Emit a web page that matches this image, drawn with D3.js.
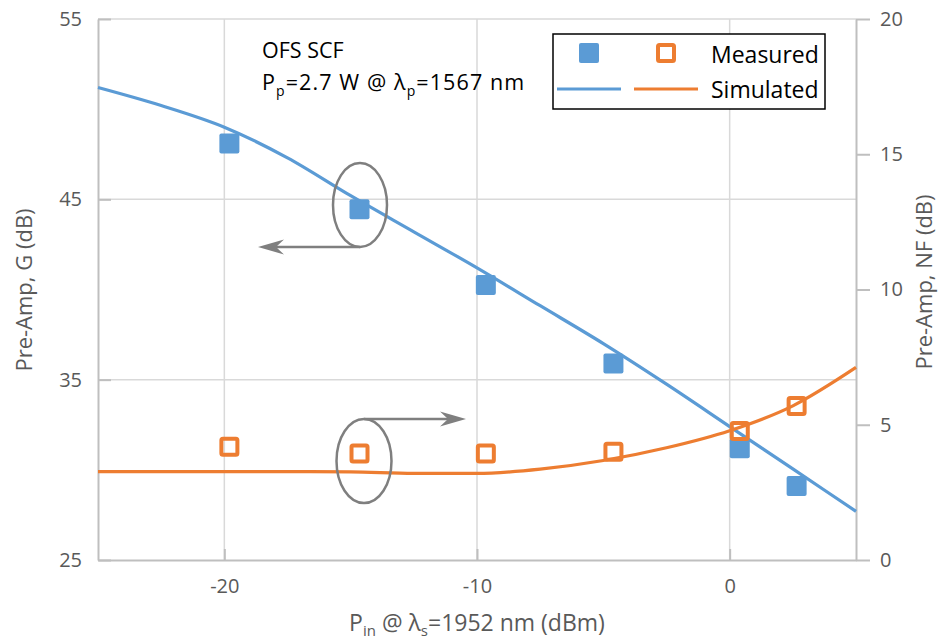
<!DOCTYPE html>
<html>
<head>
<meta charset="utf-8">
<script src="https://cdn.jsdelivr.net/npm/d3@7"></script>
<style>
html,body{margin:0;padding:0;background:#fff;}
svg{display:block;font-family:"Open Sans",sans-serif;}
</style>
</head>
<body>
<svg id="chart" width="941" height="643"></svg>
<script>
// ---- data ----
const measX = [-19.8, -14.65, -9.65, -4.6, 0.4, 2.65];
const measGain = [48.1, 44.45, 40.25, 35.9, 31.2, 29.1];
const measNF = [4.19, 3.94, 3.94, 4.0, 4.77, 5.69];

const simX = [-25, -22.5, -20, -17.5, -15, -12.5, -10, -7.5, -5, -2.5, 0, 2.5, 5];
const simGain = [51.2, 50.2, 49.0, 47.3, 45.2, 43.2, 41.2, 39.1, 37.0, 34.75, 32.4, 30.05, 27.7];
const simNF = [3.27, 3.27, 3.27, 3.27, 3.26, 3.2, 3.2, 3.36, 3.68, 4.15, 4.78, 5.7, 7.12];

const xTicks = [-20, -10, 0];
const yLeftTicks = [25, 35, 45, 55];
const yRightTicks = [0, 5, 10, 15, 20];

// ---- layout ----
const L = 98, R = 856, T = 19, B = 560;
const BLUE = "#5b9bd5", ORANGE = "#ed7d31", GRID = "#d9d9d9", AXIS = "#bfbfbf", TXT = "#595959", ANN = "#7f7f7f";

const svg = d3.select("#chart");
const x = d3.scaleLinear().domain([-25, 5]).range([L, R]);
const yL = d3.scaleLinear().domain([25, 55]).range([B, T]);
const yR = d3.scaleLinear().domain([0, 20]).range([B, T]);

// gridlines
svg.append("g").selectAll("line").data(yLeftTicks.filter(d => d !== 25)).join("line")
  .attr("x1", L).attr("x2", R).attr("y1", d => yL(d)).attr("y2", d => yL(d))
  .attr("stroke", GRID).attr("stroke-width", 1.5);
svg.append("g").selectAll("line").data(xTicks).join("line")
  .attr("x1", d => x(d)).attr("x2", d => x(d)).attr("y1", T).attr("y2", B)
  .attr("stroke", GRID).attr("stroke-width", 1.5);

// axes
const axStyle = g => {
  g.select(".domain").attr("stroke", AXIS).attr("stroke-width", 2);
  g.selectAll(".tick line").attr("stroke", AXIS).attr("stroke-width", 2);
  g.selectAll(".tick text").attr("fill", TXT).attr("font-size", 20).attr("font-family", "Open Sans");
};
svg.append("g").attr("transform", `translate(0,${B})`)
  .call(d3.axisBottom(x).tickValues(xTicks).tickSizeInner(-11).tickSizeOuter(0).tickPadding(19).tickFormat(d3.format("d")))
  .call(axStyle)
  .call(g => g.selectAll(".tick text").text(d => d < 0 ? "-" + Math.abs(d) : d));
svg.append("g").attr("transform", `translate(${L},0)`)
  .call(d3.axisLeft(yL).tickValues(yLeftTicks).tickSizeInner(-13).tickSizeOuter(0).tickPadding(16))
  .call(axStyle);
svg.append("g").attr("transform", `translate(${R},0)`)
  .call(d3.axisRight(yR).tickValues(yRightTicks).tickSizeInner(14).tickSizeOuter(0).tickPadding(10))
  .call(axStyle);

// simulated curves
const lineG = d3.line().x((d, i) => x(simX[i])).y(d => yL(d)).curve(d3.curveMonotoneX);
const lineN = d3.line().x((d, i) => x(simX[i])).y(d => yR(d)).curve(d3.curveMonotoneX);
svg.append("path").attr("d", lineG(simGain)).attr("fill", "none").attr("stroke", BLUE).attr("stroke-width", 3.2);
svg.append("path").attr("d", lineN(simNF)).attr("fill", "none").attr("stroke", ORANGE).attr("stroke-width", 3.2);

// measured markers
const S = 20;
svg.append("g").selectAll("rect").data(measGain).join("rect")
  .attr("x", (d, i) => x(measX[i]) - S / 2).attr("y", d => yL(d) - S / 2)
  .attr("width", S).attr("height", S).attr("rx", 2).attr("fill", BLUE);
svg.append("g").selectAll("rect").data(measNF).join("rect")
  .attr("x", (d, i) => x(measX[i]) - 8).attr("y", d => yR(d) - 8)
  .attr("width", 16).attr("height", 16).attr("rx", 1.5)
  .attr("fill", "none").attr("stroke", ORANGE).attr("stroke-width", 4);

// annotations: ellipses + arrows
function arrow(x1, y, x2) {
  const dir = x2 > x1 ? 1 : -1;
  svg.append("line").attr("x1", x1).attr("x2", x2 - dir * 12).attr("y1", y).attr("y2", y)
    .attr("stroke", ANN).attr("stroke-width", 2.5);
  const len = 26, half = 7.5, notch = 8;
  const p = [[x2, y], [x2 - dir * len, y - half], [x2 - dir * (len - notch), y], [x2 - dir * len, y + half]];
  svg.append("path").attr("d", "M" + p.map(q => q.join(",")).join("L") + "Z").attr("fill", ANN);
}
const ecx1 = 360, ecy1 = 205, ecx2 = 364, ecy2 = 461;
svg.append("ellipse").attr("cx", ecx1).attr("cy", ecy1).attr("rx", 27).attr("ry", 42)
  .attr("fill", "none").attr("stroke", ANN).attr("stroke-width", 2.5);
arrow(ecx1, ecy1 + 42, 258);
svg.append("ellipse").attr("cx", ecx2).attr("cy", ecy2).attr("rx", 27.5).attr("ry", 42)
  .attr("fill", "none").attr("stroke", ANN).attr("stroke-width", 2.5);
arrow(ecx2, ecy2 - 42, 466);

// annotation text
svg.append("text").attr("x", 262).attr("y", 58).attr("font-size", 21.5).attr("fill", "#000").text("OFS SCF");
const t2 = svg.append("text").attr("x", 262).attr("y", 90).attr("font-size", 21.5)
  .attr("letter-spacing", 1.1).attr("fill", "#000");
t2.append("tspan").text("P");
t2.append("tspan").attr("font-size", 14).attr("dy", 6).text("p");
t2.append("tspan").attr("dy", -6).text("=2.7 W @ λ");
t2.append("tspan").attr("font-size", 14).attr("dy", 6).text("p");
t2.append("tspan").attr("dy", -6).text("=1567 nm");

// legend
svg.append("rect").attr("x", 553).attr("y", 34).attr("width", 272).attr("height", 75)
  .attr("fill", "#fff").attr("stroke", "#000").attr("stroke-width", 1.5);
svg.append("rect").attr("x", 589 - 10).attr("y", 53 - 10).attr("width", 20).attr("height", 20).attr("rx", 2).attr("fill", BLUE);
svg.append("rect").attr("x", 666 - 8).attr("y", 53 - 8).attr("width", 16).attr("height", 16).attr("rx", 1.5)
  .attr("fill", "none").attr("stroke", ORANGE).attr("stroke-width", 4);
svg.append("line").attr("x1", 557).attr("x2", 621).attr("y1", 89).attr("y2", 89).attr("stroke", BLUE).attr("stroke-width", 3.2);
svg.append("line").attr("x1", 634).attr("x2", 698).attr("y1", 89).attr("y2", 89).attr("stroke", ORANGE).attr("stroke-width", 3.2);
svg.append("text").attr("x", 711).attr("y", 63).attr("font-size", 23).attr("fill", "#000").text("Measured");
svg.append("text").attr("x", 711).attr("y", 98).attr("font-size", 23).attr("fill", "#000").text("Simulated");

// axis titles
svg.append("text").attr("transform", "translate(32,290) rotate(-90)").attr("text-anchor", "middle")
  .attr("font-size", 22).attr("fill", TXT).text("Pre-Amp, G (dB)");
svg.append("text").attr("transform", "translate(932,282) rotate(-90)").attr("text-anchor", "middle")
  .attr("font-size", 22).attr("fill", TXT).text("Pre-Amp, NF (dB)");
const xt = svg.append("text").attr("x", 477).attr("y", 631).attr("text-anchor", "middle")
  .attr("font-size", 23).attr("fill", TXT);
xt.append("tspan").text("P");
xt.append("tspan").attr("font-size", 15).attr("dy", 5).text("in");
xt.append("tspan").attr("dy", -5).text(" @ λ");
xt.append("tspan").attr("font-size", 15).attr("dy", 5).text("s");
xt.append("tspan").attr("dy", -5).text("=1952 nm (dBm)");
</script>
</body>
</html>
